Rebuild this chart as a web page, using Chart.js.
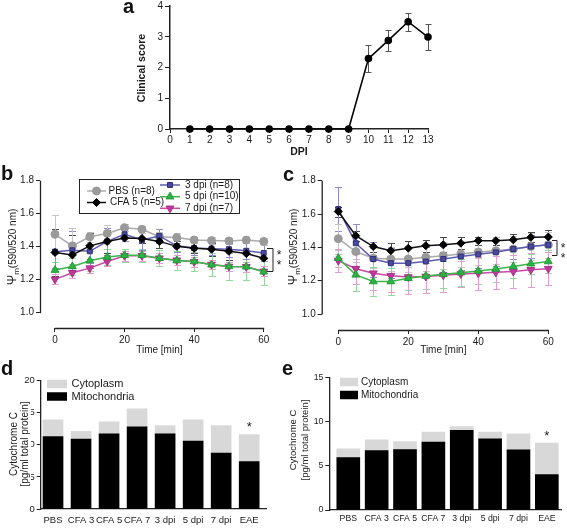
<!DOCTYPE html>
<html><head><meta charset="utf-8">
<script src="https://cdn.jsdelivr.net/npm/chart.js@4.4.1/dist/chart.umd.min.js"></script>
<style>
html,body{margin:0;padding:0;background:#fff}
body{width:567px;height:529px;position:relative;overflow:hidden;font-family:"Liberation Sans",Arial,sans-serif}
canvas{position:absolute;left:0;top:0}
.pl{position:absolute;font-weight:bold;font-size:20px;line-height:20px;color:#111}
</style></head>
<body>
<canvas id="ca" width="567" height="529"></canvas>
<canvas id="cb" width="567" height="529"></canvas>
<canvas id="cc" width="567" height="529"></canvas>
<canvas id="cd" width="567" height="529"></canvas>
<canvas id="ce" width="567" height="529"></canvas>
<div class="pl" style="left:123px;top:-4px">a</div>
<div class="pl" style="left:1px;top:163px">b</div>
<div class="pl" style="left:283px;top:164px">c</div>
<div class="pl" style="left:1px;top:358px">d</div>
<div class="pl" style="left:282px;top:358px">e</div>
<script>
// ---------- data ----------
const dpiDays = [1,2,3,4,5,6,7,8,9,10,11,12,13];
const clinicalScore = [0,0,0,0,0,0,0,0,0,2.29,2.88,3.49,2.99];
const clinicalErr   = [0,0,0,0,0,0,0,0,0,0.43,0.33,0.29,0.41];
const dpiTicks = [0,1,2,3,4,5,6,7,8,9,10,11,12,13];
const scoreTicks = [0,1,2,3,4];

const timeMin = [0,5,10,15,20,25,30,35,40,45,50,55,60];
const timeTicks = [0,20,40,60];
const psiTicks = [1.0,1.2,1.4,1.6,1.8];

const bPBS  = [1.475,1.405,1.46,1.48,1.515,1.505,1.46,1.455,1.44,1.437,1.435,1.44,1.432];
const bCFA5 = [1.365,1.35,1.405,1.432,1.452,1.45,1.432,1.402,1.39,1.385,1.372,1.358,1.33];
const b3dpi = [1.37,1.378,1.372,1.432,1.475,1.44,1.465,1.405,1.392,1.388,1.385,1.375,1.362];
const b5dpi = [1.258,1.28,1.315,1.337,1.348,1.348,1.33,1.316,1.31,1.29,1.28,1.278,1.248];
const b7dpi = [1.202,1.242,1.27,1.31,1.345,1.345,1.33,1.318,1.308,1.292,1.28,1.278,1.25];
const bPBSerr  = [0.12,0.11,0.03,0.05,0.02,0.02,0.03,0.03,0.02,0.02,0.02,0.02,0.02];
const bCFA5err = [0.14,0.12,0.08,0.07,0.02,0.03,0.04,0.03,0.03,0.04,0.05,0.07,0.08];
const b3dpiErr = [0.1,0.12,0.1,0.08,0.04,0.06,0.04,0.04,0.04,0.04,0.05,0.05,0.05];
const b5dpiErr = [0.05,0.05,0.06,0.05,0.04,0.04,0.05,0.06,0.06,0.07,0.08,0.08,0.08];
const b7dpiErr = [0.03,0.03,0.03,0.03,0.03,0.03,0.03,0.03,0.03,0.03,0.03,0.03,0.03];

const cPBS  = [1.452,1.375,1.335,1.33,1.33,1.34,1.35,1.36,1.372,1.38,1.39,1.405,1.415];
const cCFA5 = [1.615,1.47,1.405,1.38,1.395,1.41,1.415,1.425,1.44,1.44,1.445,1.46,1.462];
const c3dpi = [1.63,1.425,1.33,1.305,1.305,1.315,1.33,1.345,1.358,1.37,1.39,1.405,1.415];
const c5dpi = [1.335,1.235,1.195,1.195,1.215,1.228,1.238,1.248,1.258,1.27,1.285,1.302,1.315];
const c7dpi = [1.32,1.272,1.245,1.23,1.222,1.225,1.233,1.24,1.245,1.25,1.255,1.265,1.272];
const cPBSerr  = [0.09,0.06,0.06,0.07,0.08,0.08,0.08,0.08,0.08,0.08,0.08,0.08,0.08];
const cCFA5err = [0.03,0.03,0.03,0.045,0.045,0.035,0.045,0.035,0.025,0.025,0.035,0.03,0.04];
const c3dpiErr = [0.13,0.115,0.105,0.09,0.09,0.09,0.08,0.08,0.08,0.08,0.06,0.07,0.08];
const c5dpiErr = [0.05,0.095,0.085,0.08,0.07,0.08,0.08,0.08,0.08,0.08,0.07,0.06,0.07];
const c7dpiErr = [0.07,0.09,0.1,0.1,0.1,0.1,0.1,0.08,0.1,0.1,0.1,0.1,0.1];

const cytoGroups = ['PBS','CFA 3','CFA 5','CFA 7','3 dpi','5 dpi','7 dpi','EAE'];
const dMito = [11.3,10.9,11.7,12.8,11.7,10.6,8.7,7.4];
const dCyto = [2.6,1.2,1.9,2.8,1.3,3.3,4.3,4.2];
const dTicks = [0,5,10,15,20];
const eMito = [5.94,6.74,6.85,7.69,9.02,8.07,6.82,4.02];
const eCyto = [0.99,1.21,0.92,1.14,0.45,0.76,1.82,3.56];
const eTicks = [0,5,10,15];

// ---------- helpers ----------
const W = 567, H = 529;
const FONT = '"Liberation Sans", Arial, sans-serif';
const INK = '#1a1a1a';
Chart.defaults.font.family = FONT;
Chart.defaults.color = INK;

const fixY = w => s => { s.width = w; s.paddingTop = 0; s.paddingBottom = 0; };
const fixX = h => s => { s.height = h; s.paddingLeft = 0; s.paddingRight = 0; };
const setTicks = vals => s => { s.ticks = vals.map(v => ({value: v})); };
const pad = (l,t,r,b,yW,xH) => ({padding:{left:l-yW, top:t, right:W-r, bottom:H-b-xH}});

function txt(ctx, s, x, y, o = {}) {
  ctx.save();
  ctx.translate(x, y);
  if (o.rot) ctx.rotate(o.rot);
  ctx.font = (o.bold ? 'bold ' : '') + (o.size || 10) + 'px ' + FONT;
  ctx.textAlign = o.align || 'center';
  ctx.textBaseline = o.base || 'middle';
  if (o.bg) {
    const w = ctx.measureText(s).width;
    ctx.fillStyle = o.bg;
    ctx.fillRect(-w / 2 - 1, -o.size * 0.55, w + 2, o.size * 1.1);
  }
  ctx.fillStyle = o.color || INK;
  ctx.fillText(s, 0, 0);
  ctx.restore();
}
function psiTitle(ctx, x, y) {
  ctx.save();
  ctx.translate(x, y);
  ctx.rotate(-Math.PI / 2);
  ctx.fillStyle = INK;
  ctx.textBaseline = 'alphabetic';
  ctx.textAlign = 'left';
  const f1 = '12.5px ' + FONT, f2 = '8px ' + FONT, f3 = '10px ' + FONT;
  ctx.font = f1; const w1 = ctx.measureText('Ψ').width;
  ctx.font = f2; const w2 = ctx.measureText('m').width;
  ctx.font = f3; const w3 = ctx.measureText('(590/520 nm)').width;
  let sx = -(w1 + w2 + w3) / 2;
  ctx.font = f1; ctx.fillText('Ψ', sx, 4);
  ctx.font = f2; ctx.fillText('m', sx + w1, 7);
  ctx.font = f3; ctx.fillText('(590/520 nm)', sx + w1 + w2, 4);
  ctx.restore();
}
function line(ctx, pts, color, w) {
  ctx.save(); ctx.strokeStyle = color || INK; ctx.lineWidth = w || 1;
  ctx.beginPath(); ctx.moveTo(pts[0][0], pts[0][1]);
  for (let i = 1; i < pts.length; i++) ctx.lineTo(pts[i][0], pts[i][1]);
  ctx.stroke(); ctx.restore();
}

const errPlugin = {
  id: 'errbars',
  beforeDatasetsDraw(chart) {
    const ctx = chart.ctx, xs = chart.scales.x, ys = chart.scales.y;
    chart.data.datasets.forEach(ds => {
      if (!ds.errors) return;
      ctx.save(); ctx.strokeStyle = ds.errColor; ctx.lineWidth = 1;
      ds.data.forEach((p, i) => {
        const e = ds.errors[i]; if (!e) return;
        const x = Math.round(xs.getPixelForValue(p.x)) + 0.5;
        const y1 = Math.round(ys.getPixelForValue(p.y + e)) + 0.5;
        const y2 = Math.round(ys.getPixelForValue(p.y - e)) + 0.5;
        const c = ds.capW / 2;
        ctx.beginPath();
        ctx.moveTo(x, y1); ctx.lineTo(x, y2);
        ctx.moveTo(x - c, y1); ctx.lineTo(x + c, y1);
        ctx.moveTo(x - c, y2); ctx.lineTo(x + c, y2);
        ctx.stroke();
      });
      ctx.restore();
    });
  }
};

const baseOpts = {responsive:false, animation:false, events:[], plugins:{legend:{display:false}, tooltip:{enabled:false}}};

// ---------- panel a ----------
new Chart(document.getElementById('ca'), {
  type: 'line',
  data: { datasets: [{
    data: dpiDays.map((d,i) => ({x:d, y:clinicalScore[i]})),
    errors: clinicalErr, errColor:'#555', capW: 6,
    borderColor:'#000', borderWidth:1.6, pointRadius:3, pointBackgroundColor:'#000', pointBorderColor:'#000', tension:0
  }]},
  options: Object.assign({}, baseOpts, {
    layout: pad(170, 6, 428, 129, 40, 32),
    clip: false,
    scales: {
      x: { type:'linear', min:0, max:13, afterFit: fixX(32), afterBuildTicks: setTicks(dpiTicks),
           grid:{display:true, drawOnChartArea:false, tickLength:4, color:'#222'},
           border:{color:'#222', width:1.5},
           ticks:{font:{size:10}, padding:1, maxRotation:0, autoSkip:false, color:INK} },
      y: { type:'linear', min:0, max:4, afterFit: fixY(40), afterBuildTicks: setTicks(scoreTicks),
           grid:{display:true, drawOnChartArea:false, tickLength:5, color:'#222'},
           border:{color:'#222', width:1.5},
           ticks:{font:{size:10}, padding:2, color:INK} }
    }
  }),
  plugins: [errPlugin, {
    id:'decoA',
    afterDraw(chart) {
      const ctx = chart.ctx;
      txt(ctx, 'Clinical score', 141.7, 68, {bold:true, size:10.5, rot:-Math.PI/2});
      txt(ctx, 'DPI', chart.scales.x.getPixelForValue(6.5), 152, {bold:true, size:10.5});
    }
  }]
});

// ---------- panels b & c ----------
const ST = {
  PBS:  {line:'#ababab', fill:'#9a9a9a', border:'#9a9a9a', err:'#c6c6c6', ps:'circle', r:4},
  CFA5: {line:'#111111', fill:'#000000', border:'#000000', err:'#4a4a4a', ps:'rectRot', r:4},
  d3:   {line:'#5c5cb2', fill:'#4a4a9e', border:'#2e2e78', err:'#8c8cd2', ps:'rect', r:3.5},
  d5:   {line:'#3cb64a', fill:'#2db344', border:'#229a38', err:'#92dc9b', ps:'triangle', r:4.5},
  d7:   {line:'#c74aa6', fill:'#c0389b', border:'#a82f86', err:'#e69bd1', ps:'triangle', rot:180, r:4.5}
};
function lineDS(label, vals, errs, st) {
  return { label, data: timeMin.map((t,i) => ({x:t, y:vals[i]})), errors: errs, errColor: st.err, capW: 7,
    borderColor: st.line, backgroundColor: st.fill, pointBackgroundColor: st.fill, pointBorderColor: st.border,
    pointBorderWidth: 1, pointStyle: st.ps, pointRotation: st.rot || 0, pointRadius: st.r, borderWidth: 1.5, tension: 0 };
}
function timeChart(id, area, xmin, ymin, sets, extra) {
  return new Chart(document.getElementById(id), {
    type: 'line',
    data: { datasets: sets },
    options: Object.assign({}, baseOpts, {
      layout: pad(area[0], area[1], area[2], area[3], 36, 24),
      clip: false,
      scales: {
        x: { type:'linear', min:xmin, max:60, afterFit: fixX(24), afterBuildTicks: setTicks(timeTicks),
             grid:{display:true, drawOnChartArea:false, tickLength:4, color:'#222'},
             border:{display:false},
             ticks:{font:{size:10}, padding:2, maxRotation:0, autoSkip:false, color:INK} },
        y: { type:'linear', min:ymin, max:1.8, afterFit: fixY(36), afterBuildTicks: setTicks(psiTicks),
             grid:{display:true, drawOnChartArea:false, tickLength:4, color:'#222'},
             border:{display:false},
             ticks:{font:{size:10}, padding:2, color:INK, callback: v => v.toFixed(1)} }
      }
    }),
    plugins: [errPlugin, {
      id:'deco' + id,
      afterDraw(chart) {
        const ctx = chart.ctx, xs = chart.scales.x, ys = chart.scales.y, ca = chart.chartArea;
        line(ctx, [[ca.left + 0.5, ys.getPixelForValue(1.8)], [ca.left + 0.5, ys.getPixelForValue(1.0) + 0.5]], '#222', 1.3);
        line(ctx, [[xs.getPixelForValue(0), ca.bottom + 0.5], [xs.getPixelForValue(60) + 0.5, ca.bottom + 0.5]], '#222', 1.3);
        txt(ctx, 'Time [min]', xs.getPixelForValue(30), 350, {size:10});
        extra(chart, ctx, xs, ys);
      }
    }]
  });
}
function drawLegendEntry(ctx, st, x1, x2, y, label, tx) {
  line(ctx, [[x1, y], [x2, y]], st.line, 1.5);
  ctx.save();
  ctx.fillStyle = st.fill; ctx.strokeStyle = st.border; ctx.lineWidth = 1;
  Chart.helpers.drawPoint(ctx, {pointStyle: st.ps, rotation: st.rot || 0, radius: st.r, borderWidth: 1}, (x1 + x2) / 2, y);
  ctx.restore();
  txt(ctx, label, tx, y, {size:10, align:'left'});
}
function bracket(ctx, xs, ys, xArm, xV, vTop, vBot, xStar, s1, s2) {
  const yT = Math.round(ys.getPixelForValue(vTop)) + 0.5, yB = Math.round(ys.getPixelForValue(vBot)) + 0.5;
  line(ctx, [[xArm, yT], [xV, yT], [xV, yB], [xArm, yB]], '#222', 1);
  txt(ctx, '*', xStar, ys.getPixelForValue(s1) + 6, {size:12, base:'alphabetic'});
  txt(ctx, '*', xStar, ys.getPixelForValue(s2) + 6, {size:12, base:'alphabetic'});
}

timeChart('cb', [40, 180.7, 263.7, 328], -4.31, 0.907, [
  lineDS('CFA 5 (n=5)', bCFA5, bCFA5err, ST.CFA5),
  lineDS('5 dpi (n=10)', b5dpi, b5dpiErr, ST.d5),
  lineDS('7 dpi (n=7)', b7dpi, b7dpiErr, ST.d7),
  lineDS('3 dpi (n=8)', b3dpi, b3dpiErr, ST.d3),
  lineDS('PBS (n=8)', bPBS, bPBSerr, ST.PBS)
], (chart, ctx, xs, ys) => {
  psiTitle(ctx, 12, 247);
  ctx.save(); ctx.strokeStyle = '#222'; ctx.lineWidth = 1; ctx.fillStyle = '#fff';
  ctx.fillRect(79.5, 179.5, 160, 34); ctx.strokeRect(79.5, 179.5, 160, 34); ctx.restore();
  drawLegendEntry(ctx, ST.PBS, 87, 106, 191, 'PBS (n=8)', 108.5);
  drawLegendEntry(ctx, ST.CFA5, 87, 106, 202.5, 'CFA 5 (n=5)', 110);
  drawLegendEntry(ctx, ST.d3, 160, 180, 185, '3 dpi (n=8)', 185);
  drawLegendEntry(ctx, ST.d5, 160, 180, 196.7, '5 dpi (n=10)', 185);
  drawLegendEntry(ctx, ST.d7, 160, 180, 208.3, '7 dpi (n=7)', 185);
  bracket(ctx, xs, ys, 267, 273, 1.395, 1.25, 279, 1.36, 1.30);
});

timeChart('cc', [321.7, 180.7, 548.3, 330], -4.74, 0.904, [
  lineDS('CFA 5 (n=5)', cCFA5, cCFA5err, ST.CFA5),
  lineDS('3 dpi (n=8)', c3dpi, c3dpiErr, ST.d3),
  lineDS('PBS (n=8)', cPBS, cPBSerr, ST.PBS),
  lineDS('5 dpi (n=10)', c5dpi, c5dpiErr, ST.d5),
  lineDS('7 dpi (n=7)', c7dpi, c7dpiErr, ST.d7)
], (chart, ctx, xs, ys) => {
  psiTitle(ctx, 293, 247);
  bracket(ctx, xs, ys, 552, 557, 1.443, 1.352, 563, 1.41, 1.35);
});

// ---------- panels d & e ----------
function barChart(id, area, xmin, xmax, ymax, yTicks, mito, cyto, barW, fs, lpad, deco) {
  return new Chart(document.getElementById(id), {
    type: 'bar',
    data: { datasets: [
      { label:'Mitochondria', data: cytoGroups.map((g,i) => ({x:i, y:mito[i]})), backgroundColor:'#000', barThickness: barW, borderWidth:0 },
      { label:'Cytoplasm', data: cytoGroups.map((g,i) => ({x:i, y:cyto[i]})), backgroundColor:'#d8d8d8', barThickness: barW, borderWidth:0 }
    ]},
    options: Object.assign({}, baseOpts, {
      layout: pad(area[0], area[1], area[2], area[3], 36, 20),
      scales: {
        x: { type:'linear', stacked:true, offset:false, min:xmin, max:xmax, afterFit: fixX(20), afterBuildTicks: setTicks(cytoGroups.map((g,i) => i)),
             grid:{display:false, drawTicks:false, tickLength:0, offset:false}, border:{color:'#222', width:1.3},
             ticks:{font:{size:fs}, padding:lpad, maxRotation:0, autoSkip:false, color:INK, callback: v => cytoGroups[v]} },
        y: { type:'linear', stacked:true, min:0, max:ymax, afterFit: fixY(36), afterBuildTicks: setTicks(yTicks),
             grid:{display:true, drawOnChartArea:false, tickLength:4, color:'#222'},
             border:{color:'#222', width:1.3},
             ticks:{font:{size:fs}, padding:2, color:INK} }
      }
    }),
    plugins: [{ id:'deco' + id, afterDraw(chart) { deco(chart, chart.ctx, chart.scales.x, chart.scales.y); } }]
  });
}
function cytoLegend(ctx, x, w, y1, y2, h, tx, fs) {
  ctx.save();
  ctx.fillStyle = '#d8d8d8'; ctx.fillRect(x, y1 - h/2, w, h);
  ctx.fillStyle = '#000'; ctx.fillRect(x, y2 - h/2, w, h);
  ctx.restore();
  txt(ctx, 'Cytoplasm', tx, y1, {size:fs, align:'left'});
  txt(ctx, 'Mitochondria', tx, y2, {size:fs, align:'left'});
}
function cytoTitle(ctx, x1, x2, y, fs, bg) {
  txt(ctx, 'Cytochrome C', x1, y, {size:fs, rot:-Math.PI/2});
  txt(ctx, '[pg/ml total protein]', x2, y, {size:fs, rot:-Math.PI/2, bg: bg});
}

barChart('cd', [40.7, 380.7, 266, 509], -0.44, 7.6, 20, dTicks, dMito, dCyto, 20, 9.5, 6, (chart, ctx, xs, ys) => {
  cytoTitle(ctx, 14.5, 25.5, 444, 10, '#fff');
  cytoLegend(ctx, 47, 20, 384, 396.5, 8.5, 71.5, 11);
  txt(ctx, '*', xs.getPixelForValue(7), 431, {size:13, base:'alphabetic'});
});
barChart('ce', [329.3, 377.7, 561, 510], -0.67, 7.5, 15, eTicks, eMito, eCyto, 23, 8.7, 3, (chart, ctx, xs, ys) => {
  cytoTitle(ctx, 293, 305, 440, 9.5);
  cytoLegend(ctx, 340, 18, 382, 395, 8.5, 361, 10);
  txt(ctx, '*', xs.getPixelForValue(7), 440, {size:13, base:'alphabetic'});
});
</script>
</body></html>
